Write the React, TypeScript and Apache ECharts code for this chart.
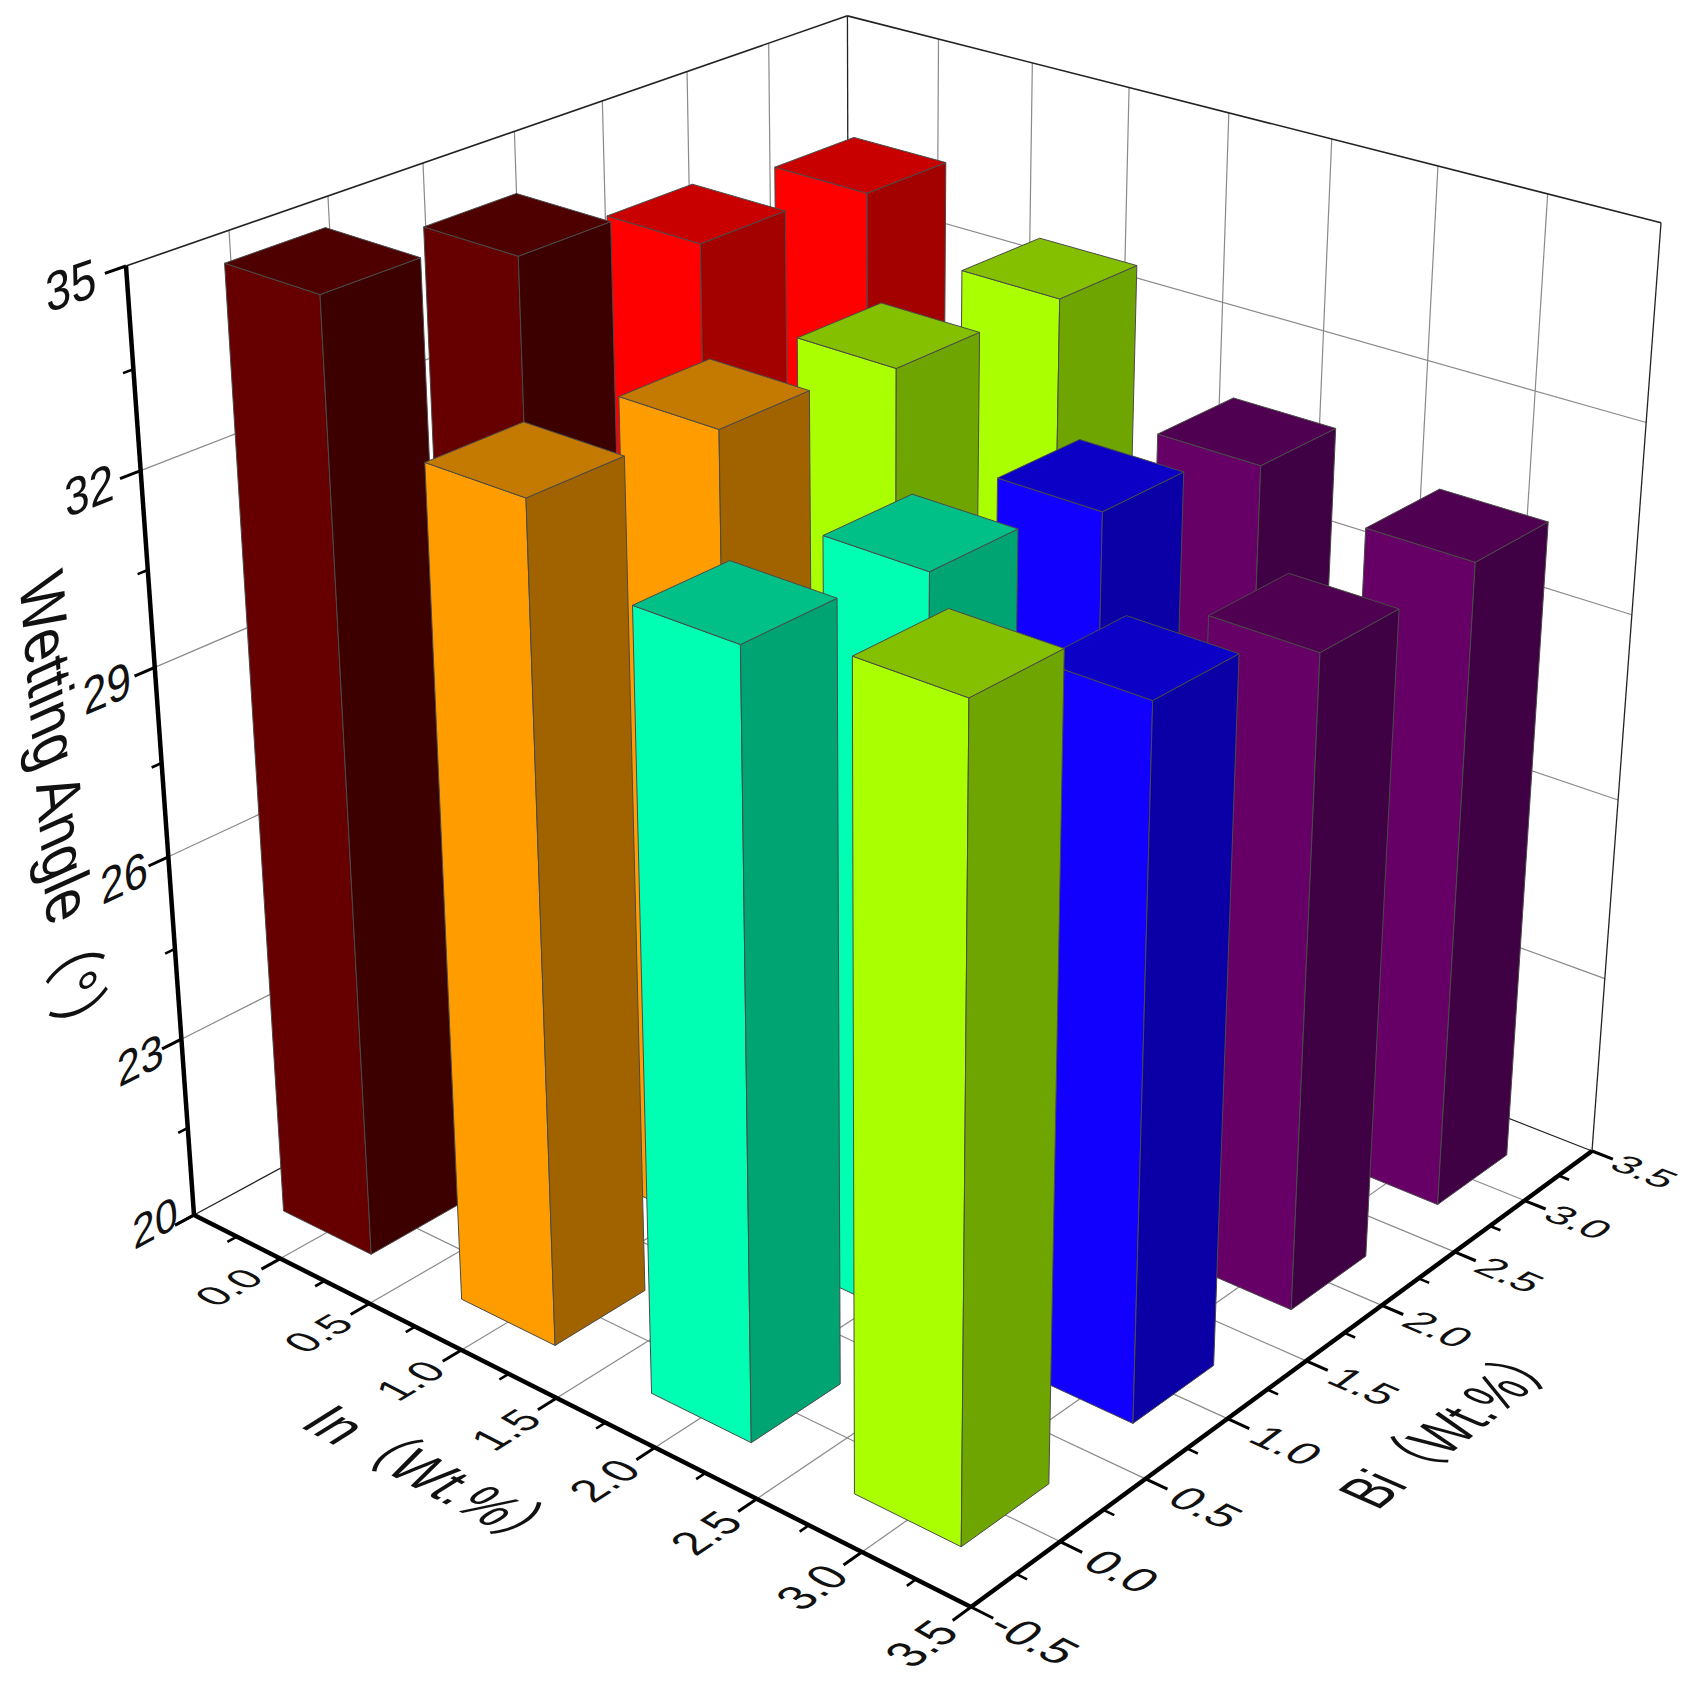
import React, { useEffect, useRef } from "react";
import * as echarts from "echarts";

// ---------- data ----------
const inLevels = [0, 1, 2, 3];
const biLevels = [3, 2, 1, 0];
const anglesIn0 = [33.43, 33.65, 34.5, 35.0];
const anglesIn1 = [32.63, 32.65, 32.88, 33.08];
const anglesIn2 = [30.97, 31.47, 31.83, 32.09];
const anglesIn3 = [30.51, 30.44, 31.09, 32.49];
const angleRows = [anglesIn0, anglesIn1, anglesIn2, anglesIn3];
const colorRowsIn0 = ["red", "red", "maroon", "maroon"];
const colorRowsIn1 = ["lime", "lime", "orange", "orange"];
const colorRowsIn2 = ["purple", "blue", "spring", "spring"];
const colorRowsIn3 = ["purple", "purple", "blue", "lime"];
const colorRows = [colorRowsIn0, colorRowsIn1, colorRowsIn2, colorRowsIn3];
const planarTicks = [-0.5, 0, 0.5, 1, 1.5, 2, 2.5, 3, 3.5];
const planarTickLabels = ["-0.5", "0.0", "0.5", "1.0", "1.5", "2.0", "2.5", "3.0", "3.5"];
const zTicks = [20, 23, 26, 29, 32, 35];
const zTickLabels = ["20", "23", "26", "29", "32", "35"];
const inTitle = "In（Wt.%）";
const biTitle = "Bi（Wt.%）";
const zTitle = "Wetting Angle（°）";

// ---------- styles ----------
const palette: Record<string, [string, string, string]> = {
  maroon: ["#660000", "#3d0000", "#4e0000"],
  red: ["#ff0000", "#a30000", "#c80000"],
  orange: ["#ff9c00", "#a06300", "#c47a00"],
  lime: ["#aaff00", "#6fa500", "#84c000"],
  spring: ["#00ffb2", "#00a372", "#00c088"],
  blue: ["#1200ff", "#0a00a5", "#0c00c6"],
  purple: ["#660066", "#400044", "#500050"],
};
const FONT = '"Liberation Sans","Noto Sans CJK TC",sans-serif';

// ---------- perspective camera, calibrated on the box corners ----------
type V2 = [number, number];
const cL: V2 = [194, 1215];
const cF: V2 = [971, 1607];
const cR: V2 = [1592, 1151];
const cLt: V2 = [126, 266];
const cBt: V2 = [847, 16];
const cRt: V2 = [1661, 223];

function meet(a: V2, b: V2, c: V2, d: V2): V2 {
  const d1x = b[0] - a[0], d1y = b[1] - a[1], d2x = d[0] - c[0], d2y = d[1] - c[1];
  const den = d1x * d2y - d1y * d2x;
  const t = ((c[0] - a[0]) * d2y - (c[1] - a[1]) * d2x) / den;
  return [a[0] + t * d1x, a[1] + t * d1y];
}
const vIn = meet(cL, cF, cBt, cRt);
const vBi = meet(cF, cR, cLt, cBt);
const vZ = meet(cL, cLt, cR, cRt);
const cB = meet(cL, vBi, cR, vIn);
function kOf(e: V2, v: V2) {
  const ex = e[0] - v[0], ey = e[1] - v[1];
  return ((cL[0] - e[0]) * ex + (cL[1] - e[1]) * ey) / (ex * ex + ey * ey);
}
const kIn = kOf(cF, vIn), kBi = kOf(cB, vBi), kZ = kOf(cLt, vZ);

function P(inV: number, bi: number, z: number): V2 {
  const a = ((inV + 0.5) / 4) * kIn;
  const b = ((bi + 0.5) / 4) * kBi;
  const c = ((z - 20) / 15) * kZ;
  const d = 1 + a + b + c;
  return [
    (cL[0] + a * vIn[0] + b * vBi[0] + c * vZ[0]) / d,
    (cL[1] + a * vIn[1] + b * vBi[1] + c * vZ[1]) / d,
  ];
}

// ---------- element helpers ----------
function seg(a: V2, b: V2, stroke: string, lineWidth: number) {
  return {
    type: "line",
    shape: { x1: a[0], y1: a[1], x2: b[0], y2: b[1] },
    style: { stroke, lineWidth, fill: "none", lineCap: "butt" },
  };
}
function face(pts: V2[], fill: string) {
  return { type: "polygon", shape: { points: pts }, style: { fill, stroke: "#4a4a4a", lineWidth: 1, lineJoin: "round" } };
}
// text lying in a 3D plane: em vectors are given in data units
function planeText(text: string, at: number[], emX: number[], emUp: number[], fontSize: number) {
  const p = P(at[0], at[1], at[2]);
  const diff = (d: number[]): V2 => {
    const A = P(at[0] + d[0] / 2, at[1] + d[1] / 2, at[2] + d[2] / 2);
    const B = P(at[0] - d[0] / 2, at[1] - d[1] / 2, at[2] - d[2] / 2);
    return [(A[0] - B[0]) / fontSize, (A[1] - B[1]) / fontSize];
  };
  const e1 = diff(emX);
  const e2 = diff(emUp);
  const a = e1[0], c = e1[1], b = -e2[0], d = -e2[1];
  const E = (a + d) / 2, F = (a - d) / 2, G = (c + b) / 2, H = (c - b) / 2;
  const Q = Math.hypot(E, H), R = Math.hypot(F, G);
  const a1 = Math.atan2(G, F), a2 = Math.atan2(H, E);
  const theta = (a2 - a1) / 2, phi = (a2 + a1) / 2;
  return {
    type: "group",
    x: p[0],
    y: p[1],
    rotation: -phi,
    scaleX: Q + R,
    scaleY: Q - R,
    children: [
      {
        type: "text",
        rotation: -theta,
        style: {
          text,
          x: 0,
          y: 0,
          fill: "#111",
          fontSize,
          fontFamily: FONT,
          align: "center",
          verticalAlign: "middle",
          textAlign: "center",
          textVerticalAlign: "middle",
        },
      },
    ],
  };
}

// ---------- box ----------
function boxBack() {
  const grid = "#8a8a8a";
  const kids: any[] = [];
  const inner = planarTicks.slice(1, -1);
  for (const t of inner) {
    kids.push(seg(P(t, -0.5, 20), P(t, 3.5, 20), grid, 1.2));
    kids.push(seg(P(-0.5, t, 20), P(3.5, t, 20), grid, 1.2));
    kids.push(seg(P(-0.5, t, 20), P(-0.5, t, 35), grid, 1.2));
    kids.push(seg(P(t, 3.5, 20), P(t, 3.5, 35), grid, 1.2));
  }
  for (const z of zTicks.slice(1, -1)) {
    kids.push(seg(P(-0.5, -0.5, z), P(-0.5, 3.5, z), grid, 1.2));
    kids.push(seg(P(-0.5, 3.5, z), P(3.5, 3.5, z), grid, 1.2));
  }
  const black = "#222";
  kids.push(seg(P(-0.5, -0.5, 20), P(-0.5, 3.5, 20), black, 1.3));
  kids.push(seg(P(-0.5, 3.5, 20), P(3.5, 3.5, 20), black, 1.3));
  kids.push(seg(P(-0.5, 3.5, 20), P(-0.5, 3.5, 35), black, 1.3));
  kids.push(seg(P(-0.5, -0.5, 35), P(-0.5, 3.5, 35), black, 1.6));
  kids.push(seg(P(-0.5, 3.5, 35), P(3.5, 3.5, 35), black, 1.6));
  kids.push(seg(P(3.5, 3.5, 20), P(3.5, 3.5, 35), black, 1.3));
  return { type: "group", children: kids };
}

function axes() {
  const k = "#000";
  const kids: any[] = [];
  kids.push(seg(P(-0.5, -0.5, 20), P(-0.5, -0.5, 35), k, 4.5));
  kids.push(seg(P(-0.5, -0.5, 20), P(3.5, -0.5, 20), k, 4.5));
  kids.push(seg(P(3.5, -0.5, 20), P(3.5, 3.5, 20), k, 4.5));
  const majorLen = 0.1, minorLen = 0.05;
  for (let t = -0.5; t <= 3.5; t += 0.25) {
    const major = Math.abs(t * 2 - Math.round(t * 2)) < 1e-6;
    const len = major ? majorLen : minorLen;
    const lw = major ? 3 : 2.6;
    kids.push(seg(P(t, -0.5, 20), P(t, -0.5 - len, 20), k, lw));
    kids.push(seg(P(3.5, t, 20), P(3.5 + len, t, 20), k, lw));
  }
  for (let z = 20; z <= 35; z += 1.5) {
    const major = Math.abs((z - 20) / 3 - Math.round((z - 20) / 3)) < 1e-6;
    kids.push(seg(P(-0.5, -0.5, z), P(-0.5, -0.5 - (major ? majorLen : minorLen), z), k, major ? 3 : 2.6));
  }
  return { type: "group", children: kids };
}

function labels() {
  const kids: any[] = [];
  const fs = 40;
  planarTicks.forEach((t, i) => {
    if (i > 0) {
      kids.push(planeText(planarTickLabels[i], [t, -0.5 - 0.27, 20], [0, 0.19, 0], [-0.2, 0, 0], fs));
    }
    kids.push(planeText(planarTickLabels[i], [3.5 + 0.28 - 0.0075 * (t + 0.5), t, 20], [0.19, 0, 0], [0, 0.2, 0], fs));
  });
  zTicks.forEach((z, i) => {
    kids.push(planeText(zTickLabels[i], [-0.5, -0.5 - (0.26 - 0.004 * (35 - z)), z === 20 ? 20.22 : z], [0, 0.21, 0], [0, 0, 0.78], fs));
  });
  kids.push(planeText(inTitle, [1.52, -0.5 - 0.65, 20], [0.235, 0, 0], [0, 0.27, 0], fs));
  kids.push(planeText(biTitle, [3.5 + 0.667, 1.495, 20], [0, 0.24, 0], [-0.27, 0, 0], fs));
  kids.push(planeText(zTitle, [-0.5, -0.5 - 0.5, 27.4], [0, 0, -0.87], [0, 0.3, 0], fs));
  return { type: "group", children: kids };
}

// ---------- bars ----------
const barData: number[][] = [];
inLevels.forEach((inV, r) => {
  biLevels.forEach((bi, c) => {
    barData.push([inV, bi, angleRows[r][c], r, c]);
  });
});

function renderBar(_: any, api: any) {
  const inV = api.value(0), bi = api.value(1), z = api.value(2);
  const r = api.value(3), c = api.value(4);
  const [front, side, top] = palette[colorRows[r][c]];
  const w = 0.25;
  const lfb = P(inV - w, bi - w, 20), ffb = P(inV + w, bi - w, 20), rfb = P(inV + w, bi + w, 20);
  const lft = P(inV - w, bi - w, z), fft = P(inV + w, bi - w, z), rft = P(inV + w, bi + w, z), bt = P(inV - w, bi + w, z);
  return {
    type: "group",
    children: [
      face([lfb, ffb, fft, lft], front),
      face([ffb, rfb, rft, fft], side),
      face([lft, fft, rft, bt], top),
    ],
  };
}

export default function App() {
  const ref = useRef<HTMLDivElement>(null);
  useEffect(() => {
    const chart = echarts.init(ref.current!, undefined, { renderer: "svg" });
    chart.setOption({
      animation: false,
      backgroundColor: "#ffffff",
      series: [
        { type: "custom", coordinateSystem: "none", silent: true, z: 1, data: [[0]], renderItem: boxBack },
        { type: "custom", coordinateSystem: "none", silent: true, z: 2, data: barData, renderItem: renderBar },
        { type: "custom", coordinateSystem: "none", silent: true, z: 3, data: [[0]], renderItem: axes },
        { type: "custom", coordinateSystem: "none", silent: true, z: 4, data: [[0]], renderItem: labels },
      ],
    });
    return () => chart.dispose();
  }, []);
  return <div ref={ref} style={{ position: "absolute", left: 0, top: 0, width: 1691, height: 1684 }} />;
}
